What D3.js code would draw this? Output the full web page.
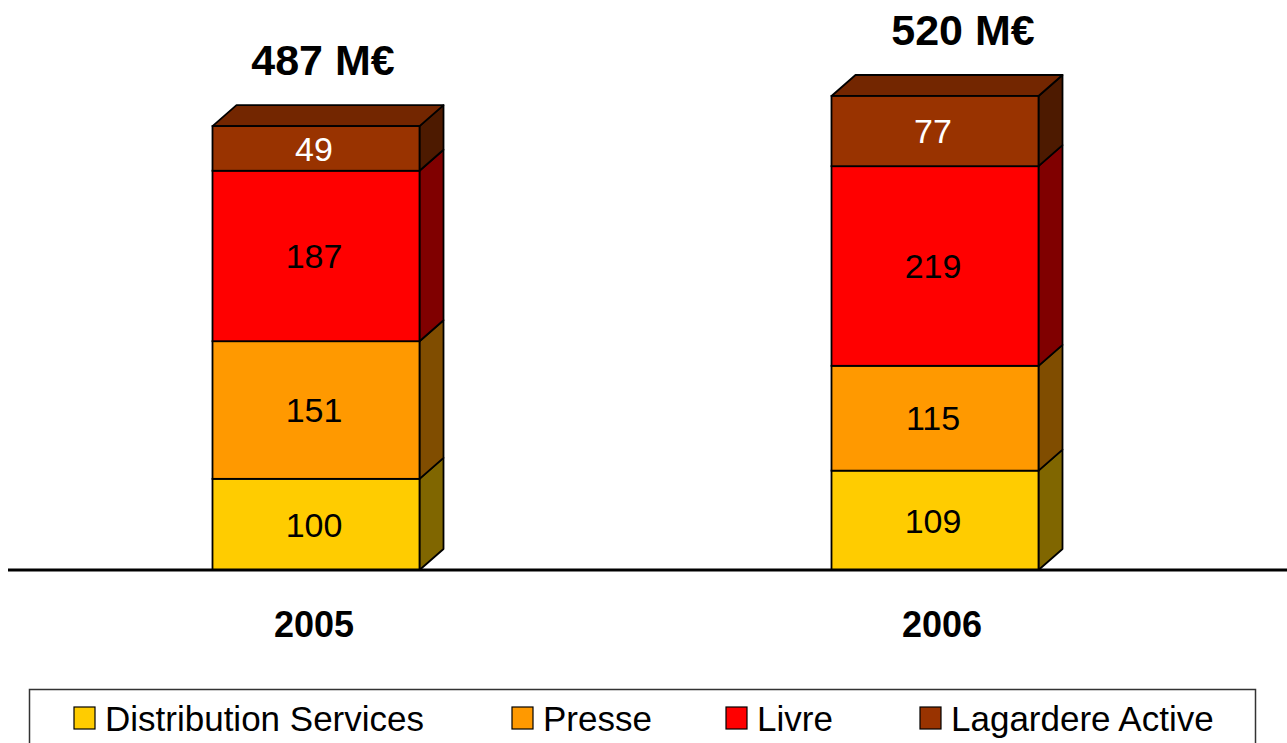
<!DOCTYPE html>
<html>
<head>
<meta charset="utf-8">
<script src="https://cdn.jsdelivr.net/npm/d3@7"></script>
<style>
  body { margin: 0; background: #fff; }
  svg { display: block; }
</style>
</head>
<body>
<div id="chart"></div>
<script>
// chart data
var years = ['2005', '2006'];
var seriesNames = ['Distribution Services', 'Presse', 'Livre', 'Lagardere Active'];
var distribution = [100, 109];
var presse = [151, 115];
var livre = [187, 219];
var lagardere = [49, 77];
var totalLabels = ['487 M€', '520 M€'];

var width = 1287, height = 743;
var frontColors = ['#ffcc00', '#ff9900', '#ff0000', '#993300'];
var labelColors = ['#000', '#000', '#000', '#fff'];
var depthX = 24, depthY = 21;
var barWidth = 207;
var totalNudge = [7, 28]; // labels above bars are not exactly centered
var yearNudge = [-2, 7];

var svg = d3.select('#chart').append('svg')
    .attr('width', width)
    .attr('height', height);

var x = d3.scalePoint().domain(years).range([316, 935]);
var y = d3.scaleLinear().domain([0, 520]).range([570, 96]);

var seriesValues = [distribution, presse, livre, lagardere];
var rows = years.map(function(yr, i) {
    var row = { year: yr };
    seriesNames.forEach(function(s, k) { row[s] = seriesValues[k][i]; });
    return row;
});
var stacked = d3.stack().keys(seriesNames)(rows);

// darken helper for the side and top faces
function shade(c, f) {
    var rgb = d3.rgb(c);
    return d3.rgb(rgb.r * f, rgb.g * f, rgb.b * f).toString();
}

var bars = svg.append('g');

stacked.forEach(function(layer, k) {
    layer.forEach(function(seg, i) {
        var x0 = x(years[i]) - barWidth / 2;
        var x1 = x0 + barWidth;
        var yb = y(seg[0]);
        var yt = y(seg[1]);
        var g = bars.append('g');

        // side face
        g.append('path')
            .attr('d', 'M' + x1 + ',' + yb + 'L' + (x1 + depthX) + ',' + (yb - depthY) +
                'L' + (x1 + depthX) + ',' + (yt - depthY) + 'L' + x1 + ',' + yt + 'Z')
            .attr('fill', shade(frontColors[k], 0.5))
            .attr('stroke', '#000')
            .attr('stroke-width', 1.8)
            .attr('stroke-linejoin', 'round');

        // top face only on the highest segment
        if (k === stacked.length - 1) {
            g.append('path')
                .attr('d', 'M' + x0 + ',' + yt + 'L' + (x0 + depthX) + ',' + (yt - depthY) +
                    'L' + (x1 + depthX) + ',' + (yt - depthY) + 'L' + x1 + ',' + yt + 'Z')
                .attr('fill', shade(frontColors[k], 0.75))
                .attr('stroke', '#000')
                .attr('stroke-width', 1.8)
                .attr('stroke-linejoin', 'round');
        }

        // front face
        g.append('rect')
            .attr('x', x0)
            .attr('y', yt)
            .attr('width', barWidth)
            .attr('height', yb - yt)
            .attr('fill', frontColors[k])
            .attr('stroke', '#000')
            .attr('stroke-width', 1.8);

        g.append('text')
            .attr('x', x(years[i]) - 2)
            .attr('y', (yt + yb) / 2)
            .attr('dy', '0.36em')
            .attr('text-anchor', 'middle')
            .attr('font-family', 'Liberation Sans, Arial, sans-serif')
            .attr('font-size', 34)
            .attr('fill', labelColors[k])
            .text(seg.data[seriesNames[k]]);
    });
});

// baseline
svg.append('line')
    .attr('x1', 8)
    .attr('x2', width)
    .attr('y1', y(0))
    .attr('y2', y(0))
    .attr('stroke', '#000')
    .attr('stroke-width', 3);

// totals above bars
var topLayer = stacked[stacked.length - 1];
years.forEach(function(yr, i) {
    svg.append('text')
        .attr('x', x(yr) + totalNudge[i])
        .attr('y', y(topLayer[i][1]) - depthY - 30)
        .attr('text-anchor', 'middle')
        .attr('font-family', 'Liberation Sans, Arial, sans-serif')
        .attr('font-weight', 'bold')
        .attr('font-size', 43)
        .text(totalLabels[i]);

    svg.append('text')
        .attr('x', x(yr) + yearNudge[i])
        .attr('y', 637)
        .attr('text-anchor', 'middle')
        .attr('font-family', 'Liberation Sans, Arial, sans-serif')
        .attr('font-weight', 'bold')
        .attr('font-size', 36)
        .text(yr);
});

// legend
var legend = svg.append('g');
legend.append('rect')
    .attr('x', 29.5)
    .attr('y', 689.5)
    .attr('width', 1226)
    .attr('height', 70)
    .attr('fill', '#fff')
    .attr('stroke', '#333')
    .attr('stroke-width', 1.5);

var legendX = [74, 512, 726, 920];
seriesNames.forEach(function(name, k) {
    legend.append('rect')
        .attr('x', legendX[k])
        .attr('y', 707)
        .attr('width', 21)
        .attr('height', 22)
        .attr('fill', frontColors[k])
        .attr('stroke', '#000')
        .attr('stroke-width', 1.2);
    legend.append('text')
        .attr('x', legendX[k] + 31)
        .attr('y', 731)
        .attr('font-family', 'Liberation Sans, Arial, sans-serif')
        .attr('font-size', 35)
        .text(name);
});
</script>
</body>
</html>
